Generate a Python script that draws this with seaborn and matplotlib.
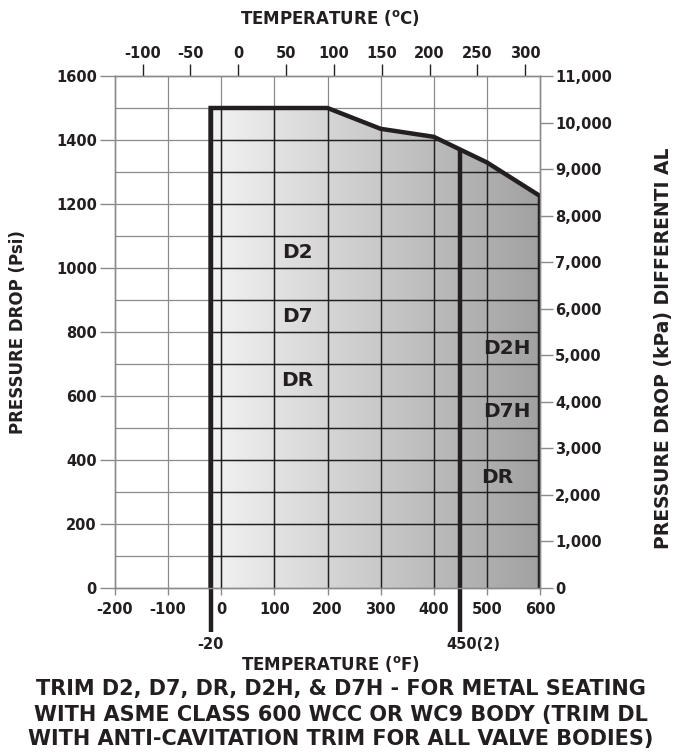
# Valve trim pressure drop vs temperature limits

import numpy as np
import matplotlib
matplotlib.use('Agg')
import matplotlib.pyplot as plt
import seaborn as sns
from matplotlib.patches import Polygon
from matplotlib.colors import LinearSegmentedColormap
from matplotlib.ticker import FuncFormatter

sns.set_style('white')
plt.rcParams['font.family'] = ['DejaVu Sans']
plt.rcParams['font.weight'] = 'bold'
plt.rcParams['mathtext.fontset'] = 'dejavusans'
plt.rcParams['axes.unicode_minus'] = False

# limit curve: temperature (F) vs max pressure drop (psi)
curve_temp_f = [-20, -20, 200, 300, 400, 500, 600, 600]
curve_psi = [0, 1500, 1500, 1435, 1410, 1330, 1225, 0]

# vertical trim limit lines
limit_temp_f = [-20, 450]
limit_top_psi = [1500, 1370]
limit_labels = ['-20', '450(2)']
limit_label_f = [-20, 475]

# trim zone labels
zone_names = ['D2', 'D7', 'DR', 'D2H', 'D7H', 'DR']
zone_temp_f = [143, 143, 143, 538, 538, 519]
zone_psi = [1050, 850, 650, 747, 553, 344]

# axis ticks
f_ticks = [-200, -100, 0, 100, 200, 300, 400, 500, 600]
c_ticks = [-100, -50, 0, 50, 100, 150, 200, 250, 300]
psi_ticks = [0, 200, 400, 600, 800, 1000, 1200, 1400, 1600]
kpa_ticks = [0, 1000, 2000, 3000, 4000, 5000, 6000, 7000, 8000, 9000, 10000, 11000]
grid_f = [-100, 0, 100, 200, 300, 400, 500]
grid_psi = [100, 200, 300, 400, 500, 600, 700, 800, 900, 1000, 1100, 1200, 1300, 1400, 1500]

caption = ['TRIM D2, D7, DR, D2H, & D7H - FOR METAL SEATING',
           'WITH ASME CLASS 600 WCC OR WC9 BODY (TRIM DL',
           'WITH ANTI-CAVITATION TRIM FOR ALL VALVE BODIES)']

ink = '#231f20'
light = '#8a8a8a'

fig = plt.figure(figsize=(6.82, 7.56), dpi=100)
ax = fig.add_axes([115/682, 1 - 588/756, 425/682, 512/756])

# gradient fill clipped to the limit curve
poly = Polygon(np.column_stack([curve_temp_f, curve_psi]), closed=True,
               facecolor='none', edgecolor='none')
ax.add_patch(poly)
cmap = LinearSegmentedColormap.from_list('fill', ['#f2f2f2', '#a1a1a1'])
im = ax.imshow(np.linspace(0, 1, 256).reshape(1, -1), extent=[-20, 600, 0, 1500],
               aspect='auto', cmap=cmap, origin='lower', zorder=1)
im.set_clip_path(poly)

# grid: grey outside, dark inside the filled area
ax.vlines(grid_f, 0, 1600, color=light, lw=0.9, zorder=2)
ax.hlines(grid_psi, -200, 600, color=light, lw=0.9, zorder=2)
dv = ax.vlines(grid_f, 0, 1600, color=ink, lw=1.0, zorder=3)
dh = ax.hlines(grid_psi, -200, 600, color=ink, lw=1.0, zorder=3)
dv.set_clip_path(poly)
dh.set_clip_path(poly)

# limit curve
sns.lineplot(x=curve_temp_f, y=curve_psi, sort=False, estimator=None,
             color=ink, lw=3.2, ax=ax, zorder=5)
for ln in ax.lines:
    ln.set_solid_joinstyle('miter')
    ln.set_solid_capstyle('butt')
ax.vlines(limit_temp_f, -137, limit_top_psi, color=ink, lw=3.2, zorder=5, clip_on=False)
for xf, lab in zip(limit_label_f, limit_labels):
    ax.text(xf, -178, lab, ha='center', va='center', fontsize=10.5, color=ink)

for name, xf, yp in zip(zone_names, zone_temp_f, zone_psi):
    ax.text(xf, yp, name, ha='center', va='center', fontsize=14.5, color=ink, zorder=6)

ax.set_xlim(-200, 600)
ax.set_ylim(0, 1600)
ax.set_xticks(f_ticks)
ax.set_yticks(psi_ticks)
ax.tick_params(axis='x', direction='out', length=5, width=1, color=light,
               labelsize=10.5, labelcolor=ink, pad=5, bottom=True)
ax.tick_params(axis='y', direction='out', length=11, width=1, color=light,
               labelsize=10.5, labelcolor=ink, pad=2, left=True)

# top celsius axis
secax = ax.secondary_xaxis('top', functions=(lambda f: (f - 32) / 1.8, lambda c: c * 1.8 + 32))
secax.set_xticks(c_ticks)
secax.tick_params(direction='out', length=9, width=1, color=ink,
                  labelsize=10.5, labelcolor=ink, pad=2)
secax.spines['top'].set_visible(False)

# right kPa axis
ax2 = ax.twinx()
ax2.set_ylim(0, 11000)
ax2.set_yticks(kpa_ticks)
ax2.yaxis.set_major_formatter(FuncFormatter(lambda v, p: f'{int(v):,}'))
ax2.tick_params(axis='y', direction='out', length=9, width=1, color=light,
                labelsize=10.5, labelcolor=ink, pad=2, right=True)

for a in (ax, ax2):
    for s in a.spines.values():
        s.set_color(light)
        s.set_linewidth(1)

fig.text(330/682, 1 - 18/756, r'TEMPERATURE ($^\mathbf{o}$C)', ha='center', va='center',
         fontsize=12, color=ink)
fig.text(330/682, 1 - 664/756, r'TEMPERATURE ($^\mathbf{o}$F)', ha='center', va='center',
         fontsize=12, color=ink)
fig.text(18/682, 1 - 332/756, 'PRESSURE DROP (Psi)', rotation=90, ha='center', va='center',
         fontsize=12, color=ink)
fig.text(663/682, 1 - 348/756, 'PRESSURE DROP (kPa) DIFFERENTI AL', rotation=90,
         ha='center', va='center', fontsize=13.5, color=ink)

for i, line in enumerate(caption):
    fig.text(0.5, 1 - (689.5 + 25 * i)/756, line, ha='center', va='center',
             fontsize=15, color=ink, fontweight='bold')

fig.savefig('out.png', dpi=100)
